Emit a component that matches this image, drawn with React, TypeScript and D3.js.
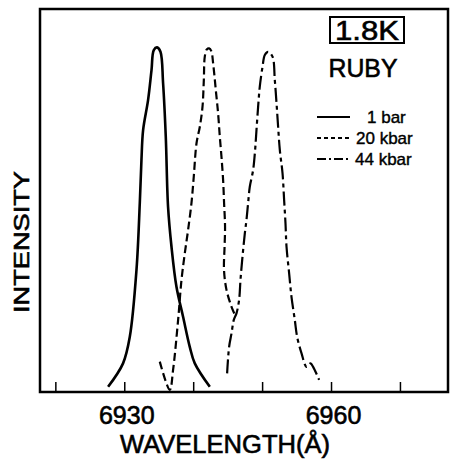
import React from 'react'
import * as d3 from 'd3'

// wavelength (Å), intensity (arb., peak ~ 1)
const bar1 = [
  [6927.58, 0.015], [6929.75, 0.083], [6930.73, 0.16], [6931.7, 0.354], [6932.18, 0.548],
  [6932.42, 0.672], [6932.66, 0.759], [6933.38, 0.846], [6933.88, 0.933], [6934.21, 0.991],
  [6934.69, 0.999], [6935.18, 0.986], [6935.56, 0.895], [6935.95, 0.74], [6936.28, 0.537],
  [6936.78, 0.421], [6937.5, 0.305], [6938.46, 0.218], [6939.43, 0.131], [6940.16, 0.083],
  [6942.34, 0.015],
]
const kbar20 = [
  [6935.08, 0.088], [6936.53, 0.006], [6937.01, 0.064], [6937.74, 0.209], [6938.23, 0.325],
  [6938.71, 0.402], [6939.19, 0.47], [6939.68, 0.548], [6940.01, 0.624], [6940.41, 0.721],
  [6940.89, 0.769], [6941.28, 0.827], [6941.47, 0.904], [6941.61, 0.972], [6941.9, 0.993],
  [6942.24, 0.996], [6942.56, 0.988], [6942.82, 0.953], [6943.21, 0.875], [6943.54, 0.808],
  [6943.79, 0.74], [6944.03, 0.682], [6944.27, 0.614], [6944.41, 0.548], [6944.55, 0.479],
  [6944.48, 0.421], [6944.4, 0.354], [6944.76, 0.296], [6945.49, 0.247], [6946.11, 0.218],
]
const kbar44 = [
  [6944.85, 0.054], [6945.14, 0.131], [6945.49, 0.17], [6945.82, 0.209], [6946.21, 0.228],
  [6946.59, 0.267], [6946.79, 0.325], [6947.08, 0.392], [6947.42, 0.46], [6947.66, 0.499],
  [6947.9, 0.548], [6948.14, 0.595], [6948.62, 0.643], [6948.91, 0.701], [6949.11, 0.759],
  [6949.35, 0.827], [6949.59, 0.885], [6949.99, 0.943], [6950.32, 0.977], [6950.8, 0.986],
  [6951.44, 0.972], [6951.77, 0.904], [6952.02, 0.837], [6952.25, 0.769], [6952.5, 0.701],
  [6952.89, 0.634], [6953.12, 0.557], [6953.32, 0.489], [6953.47, 0.421], [6953.85, 0.344],
  [6954.19, 0.276], [6954.67, 0.209], [6955.01, 0.16], [6955.65, 0.112], [6956.37, 0.073],
  [6956.95, 0.083], [6957.33, 0.073], [6958.2, 0.035],
]
const tickValues = [6920, 6930, 6940, 6950, 6960, 6970]
const labelledTicks = [6930, 6960]
const legendLabels = ['1 bar', '20 kbar', '44 kbar']

export default function App() {
  const margin = { top: 9, right: 5, bottom: 68, left: 40 }
  const width = 453, height = 460

  const x = d3.scaleLinear().domain([6917.7, 6976.9]).range([margin.left, width - margin.right])
  const y = d3.scaleLinear().domain([0, 1]).range([height - margin.bottom, 47])

  const line = d3.line<number[]>()
    .x(d => x(d[0]))
    .y(d => y(d[1]))
    .curve(d3.curveCatmullRom.alpha(0.5))

  const series = [
    { data: bar1, dash: null, w: 2.6 },
    { data: kbar20, dash: '8,4', w: 2.2 },
    { data: kbar44, dash: '14,4,4,4', w: 2.2 },
  ]

  const font = '"Liberation Sans", Arial, sans-serif'
  const bottom = y(0)
  // scanned lettering is a bit heavier than regular
  const ink = { fill: '#000', stroke: '#000', strokeWidth: 0.6 }

  return (
    <svg width={width} height={height} style={{ position: 'absolute', left: 0, top: 0, background: '#fff' }}>
      {/* frame */}
      <rect x={margin.left} y={margin.top} width={width - margin.left - margin.right}
        height={bottom - margin.top} fill="none" stroke="#000" strokeWidth={2.5} />

      {/* ticks */}
      {tickValues.map(t => (
        <line key={t} x1={x(t)} x2={x(t)} y1={bottom} y2={bottom - 10} stroke="#000" strokeWidth={1.5} />
      ))}
      {labelledTicks.map(t => (
        <text key={t} x={x(t) + 2} y={424} textAnchor="middle" fontFamily={font} fontSize={25} {...ink}>{t}</text>
      ))}

      <text x={225} y={453} textAnchor="middle" fontFamily={font} fontSize={25}
        textLength={210} lengthAdjust="spacingAndGlyphs" {...ink}>WAVELENGTH(Å)</text>
      <text transform="translate(29,242) rotate(-90)" textAnchor="middle" fontFamily={font} fontSize={22}
        textLength={142} lengthAdjust="spacingAndGlyphs" {...ink}>INTENSITY</text>

      {/* curves */}
      {series.map((s, i) => (
        <path key={i} d={line(s.data) || ''} fill="none" stroke="#000" strokeWidth={s.w}
          strokeDasharray={s.dash || undefined} strokeLinejoin="round" />
      ))}

      {/* annotations */}
      <rect x={330} y={17} width={74} height={26} fill="none" stroke="#000" strokeWidth={2} />
      <text x={367} y={40} textAnchor="middle" fontFamily={font} fontSize={27}
        textLength={64} lengthAdjust="spacingAndGlyphs" {...ink}>1.8K</text>
      <text x={363} y={77} textAnchor="middle" fontFamily={font} fontSize={26}
        textLength={69} lengthAdjust="spacingAndGlyphs" {...ink}>RUBY</text>

      {/* legend */}
      {legendLabels.map((l, i) => {
        const ly = 117 + i * 21
        const tx = [367, 356, 355][i]
        return (
          <g key={l}>
            <line x1={317} x2={350} y1={ly} y2={ly} stroke="#000" strokeWidth={i === 0 ? 2.2 : 1.8}
              strokeDasharray={series[i].dash ? (i === 1 ? '4,3' : '9,3,2,3') : undefined} />
            <text x={tx} y={ly + 6} fontFamily={font} fontSize={17} {...ink} strokeWidth={0.4}>{l}</text>
          </g>
        )
      })}
    </svg>
  )
}
